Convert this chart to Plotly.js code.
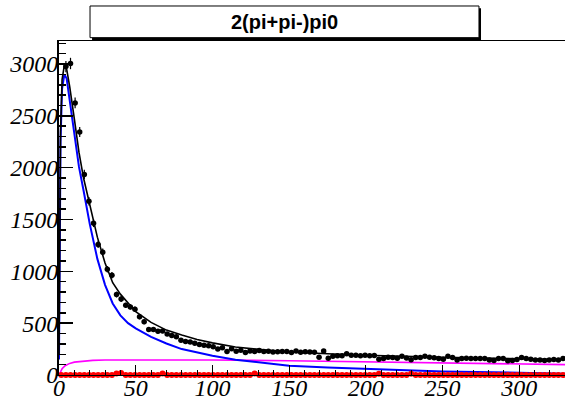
<!DOCTYPE html>
<html><head><meta charset="utf-8">
<script src="https://cdn.plot.ly/plotly-3.0.1.min.js"></script>
<style>html,body{margin:0;padding:0;background:#fff}#c{width:565px;height:398px}</style>
</head><body><div id="c"></div>
<script>
const binCenters = [1.5,4.5,7.5,10.5,13.5,16.5,19.5,22.5,25.5,28.5,31.5,34.5,37.5,40.5,43.5,46.5,49.5,52.5,55.5,58.5,
61.5,64.5,67.5,70.5,73.5,76.5,79.5,82.5,85.5,88.5,91.5,94.5,97.5,100.5,103.5,106.5,109.5,112.5,115.5,118.5,
121.5,124.5,127.5,130.5,133.5,136.5,139.5,142.5,145.5,148.5,151.5,154.5,157.5,160.5,163.5,166.5,169.5,172.5,175.5,178.5,
181.5,184.5,187.5,190.5,193.5,196.5,199.5,202.5,205.5,208.5,211.5,214.5,217.5,220.5,223.5,226.5,229.5,232.5,235.5,238.5,
241.5,244.5,247.5,250.5,253.5,256.5,259.5,262.5,265.5,268.5,271.5,274.5,277.5,280.5,283.5,286.5,289.5,292.5,295.5,298.5,
301.5,304.5,307.5,310.5,313.5,316.5,319.5,322.5,325.5,328.5];
const dataCounts = [null,2975,3005,2625,2345,1935,1675,1465,1260,1185,1020,962,776,732,672,657,635,561,513,440,
438,422,425,396,382,368,335,322,318,306,294,287,281,272,250,262,226,254,230,238,
218,232,226,236,226,228,222,224,226,226,217,232,219,224,222,220,172,232,162,182,
185,186,205,190,190,186,190,186,188,152,160,172,170,162,182,165,146,170,168,182,
172,166,160,152,182,170,145,160,162,160,160,158,160,144,140,160,158,138,140,150,
170,160,152,145,144,140,145,150,145,160];
const redCounts = [0,0,0,0,0,0,0,0,0,0,0,0,14,20,0,0,0,0,0,0,
0,0,14,0,0,0,0,0,0,0,0,0,0,0,0,0,0,0,0,0,
0,0,14,0,0,0,0,0,0,0,0,0,0,0,0,0,0,0,0,0,
0,0,0,0,0,0,0,0,0,12,0,0,0,0,0,0,12,0,0,0,
0,0,0,0,0,0,0,0,0,0,0,0,0,0,0,0,0,0,0,0,
0,0,0,0,0,0,0,0,0,0];
const fitX = [0,0.5,1,2,3.5,5,7,10,13,16,20,25,30,35,40,45,50,60,70,80,90,100,115,135,150,175,200,250,300,330];
const totalFit = [200,1500,2350,2850,2990,2950,2780,2470,2150,1900,1640,1330,1080,890,780,690,610,508,433,385,343,310,270,240,222,205,190,170,155,150];
const signalFit = [150,1400,2250,2760,2900,2860,2640,2300,2010,1780,1460,1120,870,690,575,500,450,368,304,250,215,185,148,112,90,72,60,33,22,12];
const bkgX = [0,2,4,7,10,16,22,30,50,100,150,200,250,300,330];
const bkgFit = [0,60,90,112,124,135,141,144,145,144,138,128,116,106,100];
const xTicks = [0,50,100,150,200,250,300];
const yTicks = [0,500,1000,1500,2000,2500,3000];
const titleText = '2(pi+pi-)pi0';

const traces = [
  {x:bkgX, y:bkgFit, mode:'lines', line:{color:'#ff00ff', width:1.6}, hoverinfo:'skip'},
  {x:fitX, y:signalFit, mode:'lines', line:{color:'#0000ff', width:2}, hoverinfo:'skip'},
  {x:binCenters, y:redCounts, mode:'markers', cliponaxis:false, marker:{color:'#ff0000', size:6, symbol:'circle'},
   error_y:{type:'sqrt', color:'#ff0000', thickness:1, width:0},
   error_x:{type:'constant', value:1.5, color:'#ff0000', thickness:1.2, width:0}},
  {x:fitX, y:totalFit, mode:'lines', line:{color:'#000000', width:1.6}, hoverinfo:'skip'},
  {x:binCenters, y:dataCounts, mode:'markers', marker:{color:'#000000', size:5.5, symbol:'circle'},
   error_y:{type:'sqrt', color:'#000', thickness:1.2, width:0},
   error_x:{type:'constant', value:1.5, color:'#000', thickness:1.2, width:0}}
];
const layout = {
  width:565, height:398, showlegend:false,
  paper_bgcolor:'#fff', plot_bgcolor:'#fff',
  font:{family:'Liberation Serif', size:24, style:'italic', color:'#000'},
  margin:{l:59, r:0, t:41, b:23, pad:0},
  xaxis:{range:[0,329.8], tickvals:xTicks, ticks:'inside', ticklen:10, tickwidth:1, tickcolor:'#000',
    minor:{ticks:'inside', ticklen:5, dtick:10, tick0:0, tickcolor:'#000', tickwidth:1},
    showline:true, mirror:true, linecolor:'#000', linewidth:1, showgrid:false, zeroline:false,
    ticklabelstandoff:-9},
  yaxis:{range:[0,3222], tickvals:yTicks, ticks:'inside', ticklen:14, tickwidth:1.5, tickcolor:'#000',
    minor:{ticks:'inside', ticklen:7, dtick:100, tick0:0, tickcolor:'#000', tickwidth:1.5},
    showline:true, mirror:false, linecolor:'#000', linewidth:2, showgrid:false, zeroline:false,
    ticklabelstandoff:-6},
  shapes:[
    {type:'rect', xref:'paper', yref:'paper', x0:0.0653, x1:0.834, y0:1.002, y1:1.098, fillcolor:'#000', line:{width:0}},
    {type:'rect', xref:'paper', yref:'paper', x0:0.0613, x1:0.8300, y0:1.010, y1:1.1048, fillcolor:'#fff', line:{color:'#000', width:1}}
  ],
  annotations:[
    {text:'<b>'+titleText+'</b>', xref:'paper', yref:'paper', x:0.4457, y:1.0576, xanchor:'center', yanchor:'middle', showarrow:false,
     font:{family:'Liberation Sans', size:20, style:'normal', color:'#000'}}
  ]
};
Plotly.newPlot('c', traces, layout, {staticPlot:true, displayModeBar:false});
</script></body></html>
